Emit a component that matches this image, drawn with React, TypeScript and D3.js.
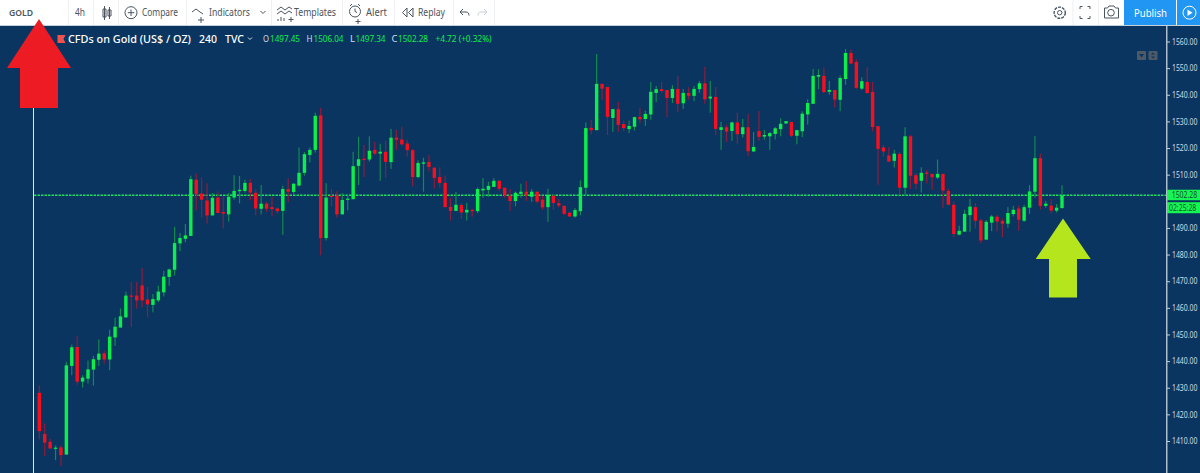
import React, { useEffect, useRef } from 'react';
import * as d3 from 'd3';

const opens = [
  1428.1,1412.6,1409.7,1407.2,1407.6,1404.9,1438.2,1445.3,1432.3,1433.4,
  1436.8,1440.5,1442.9,1440.6,1448.9,1452.6,1456.4,1464.6,1464.6,1468.4,
  1463.1,1461.1,1462.8,1465.8,1471.6,1474.3,1484.2,1485.9,1487,1508.1,
  1502.9,1500.3,1494.7,1501.4,1496,1495.1,1501.4,1503.8,1503.9,1506.9,
  1503.2,1497.2,1499.1,1497.8,1497.3,1496.4,1504.6,1503.5,1505.9,1510.7,
  1517.4,1519.3,1532.3,1486.2,1502.1,1502.1,1495.1,1500.6,1500.8,1513.3,
  1516,1515.7,1519.3,1517.9,1518.6,1514.7,1523.9,1523.2,1521.7,1519.2,
  1509.1,1514.1,1514.8,1512.6,1509.1,1506.9,1497.9,1496.4,1498.6,1495.8,
  1496.8,1496.3,1504.1,1504.3,1505.4,1507.7,1505.1,1502.1,1500.1,1502.8,
  1503.6,1501.7,1503.6,1500.6,1497.8,1502.1,1499.3,1498.3,1495.7,1494.3,
  1496.3,1505.1,1527.6,1526.7,1544.1,1542.9,1531.3,1534.6,1529,1527.1,
  1528,1531.7,1530.9,1532.6,1540.7,1542.1,1541.8,1538.8,1542.2,1536.8,
  1540.7,1539.6,1542.1,1544.3,1538.6,1539.2,1526.8,1527.8,1526.4,1529.6,
  1525.2,1527.8,1518.7,1526.4,1524.3,1524.4,1525.3,1527.1,1529.2,1529.8,
  1524.6,1526.3,1532.6,1536.6,1546.8,1547.1,1541.1,1541.8,1538.1,1545.9,
  1555.7,1552.3,1542.3,1544.8,1541.1,1528.2,1520.2,1517.2,1515.2,1517.8,
  1505.1,1524.4,1509.8,1507.7,1510.8,1510.3,1508.9,1510.3,1503.9,1498.7,
  1487.5,1488.6,1494.8,1497.8,1492.8,1485.6,1492,1494.2,1492.6,1491.6,
  1495.2,1497.3,1492.7,1497.6,1503.6,1516.2,1498.3,1498.4,1496.5,1497.45,
];
const highs = [
  1430.9,1416.6,1410.8,1408.3,1408.3,1439.7,1446.2,1449.3,1434.7,1440.2,
  1442,1448.1,1443.8,1451.8,1456.3,1459.8,1466.1,1469.8,1469.8,1475,
  1467.9,1465.2,1468.3,1473.9,1474.7,1490.4,1488.1,1491.5,1509.6,1510.4,
  1508.9,1506.8,1503.1,1503.7,1501.6,1503.1,1509.8,1509.5,1508.1,1508.3,
  1504.6,1506.1,1499.7,1501.7,1497.7,1505.8,1508.6,1506.8,1520.2,1518.5,
  1520.2,1533.3,1535.1,1506.8,1504.6,1503.8,1503.1,1502.4,1518.6,1524.2,
  1521.1,1524.4,1522.3,1521.6,1522.8,1527.2,1526.8,1528,1523.1,1519.6,
  1515.4,1516.4,1517.3,1512.9,1512.7,1509.7,1501.3,1503.5,1499.4,1499.4,
  1497.2,1505.2,1508.7,1507.3,1508.7,1508,1505.1,1504.6,1503.7,1506.6,
  1507.6,1504.6,1503.6,1502.1,1504.7,1502.8,1500.8,1498.3,1496.1,1497.5,
  1507.8,1529.6,1530.5,1555.3,1544.1,1542.9,1534.7,1537.3,1530.3,1530.3,
  1531.8,1535.1,1534,1544.8,1543.3,1544.8,1541.8,1543.6,1547.1,1542.2,
  1542.8,1543.3,1545.2,1550.4,1545.2,1542.9,1529.8,1528.8,1529.9,1533.3,
  1530.9,1532.8,1526,1533.9,1526.8,1526,1527.9,1531.2,1530.1,1529.8,
  1526.8,1533.8,1538.4,1549.7,1549.6,1550.2,1545.2,1541.8,1547.2,1557.2,
  1556.9,1553.3,1546.6,1550.3,1544.8,1528.3,1521.2,1520.4,1519.3,1518.5,
  1527.8,1524.9,1510.6,1512.8,1511.8,1510.3,1515.7,1510.3,1504.7,1499.9,
  1490.8,1496.8,1501,1499.3,1493.4,1493,1494.9,1494.9,1493.5,1497.8,
  1498.3,1498.4,1498.7,1506.1,1524.5,1517.9,1500.2,1500.9,1499,1506.04,
];
const lows = [
  1410.6,1404.3,1407.2,1402.8,1400.6,1404.9,1434.7,1431.1,1430.1,1431.6,
  1430.8,1438.2,1439.1,1436.6,1445.7,1452.6,1456.4,1452.9,1459.7,1460.2,
  1456.4,1458.3,1462.1,1464.3,1468.3,1472.2,1481.2,1484.6,1487,1496.6,
  1493.9,1491.7,1494.7,1495.6,1489.8,1492.4,1500.6,1499.2,1503.3,1500.3,
  1494.7,1495.1,1496,1494.3,1495.4,1487.4,1499.8,1502.4,1505.6,1509.6,
  1514.6,1518.3,1479.7,1485.3,1498.1,1493.9,1495.1,1496.6,1500.8,1506.1,
  1509.1,1514.9,1517.3,1507.7,1508.7,1512.2,1519.3,1520.8,1516.8,1505.6,
  1508.7,1503.6,1511.2,1504.8,1505.1,1497.8,1492.8,1496.4,1493.4,1492.8,
  1494.2,1495.6,1501.3,1501.7,1505.4,1503.9,1501.4,1496.3,1498.1,1501.3,
  1500.2,1499.8,1499.2,1496.8,1492.3,1496.8,1497.7,1494.9,1494.1,1493.9,
  1494.8,1502.1,1525.1,1526.7,1538.1,1524.9,1526.1,1526.1,1526.3,1525.6,
  1526.6,1529.3,1528.3,1530.6,1537.3,1540.7,1531.7,1536.9,1533.6,1534.7,
  1538.2,1537.6,1540.7,1536.6,1533.3,1524.9,1519.3,1522.3,1522.7,1521.6,
  1523.9,1517.1,1518.7,1522.7,1523.1,1519.3,1523.2,1524.4,1529.2,1524.1,
  1521.4,1524.1,1528.8,1536.6,1542.1,1540.6,1540,1535.3,1533.8,1543.7,
  1551.7,1542.2,1541.8,1540.6,1526.3,1506.2,1516.7,1514.9,1512.7,1502.5,
  1502.4,1504.7,1504.6,1503.3,1506.8,1504.3,1508.4,1497.6,1498.7,1486.4,
  1487.2,1488.6,1488.6,1489.8,1484.2,1485.6,1488.8,1488.6,1486.6,1490.1,
  1494.3,1488.9,1492.2,1495.3,1501.4,1496.9,1497.6,1495.4,1495.8,1497.34,
];
const closes = [
  1413.7,1409.4,1407.2,1407.5,1404.7,1438.4,1445.2,1432.3,1433.8,1436.9,
  1440.7,1442.8,1440.6,1449.2,1452.9,1456.8,1464.6,1464.3,1462.8,1462.8,
  1461.3,1463.3,1466.1,1471.7,1474.4,1484.3,1486.2,1487.2,1508.3,1502.8,
  1500.6,1494.7,1501.3,1495.6,1495.4,1501.7,1503.9,1504.3,1506.9,1503.3,
  1497.3,1499.1,1497.2,1497.1,1496.3,1504.6,1503.6,1506.6,1510.7,1517.7,
  1519.3,1532.1,1486.2,1501.4,1501.9,1495.1,1500.5,1501,1513.2,1515.8,
  1515.6,1519,1517.9,1518.6,1514.8,1523.9,1523.1,1521.4,1519.2,1509.1,
  1514.4,1514.6,1512.9,1508.8,1506.9,1497.8,1496.4,1498.7,1495.8,1496.8,
  1496.3,1504.6,1504.7,1505.8,1507.7,1504.7,1502.3,1500.1,1503.2,1503.6,
  1502.1,1503.6,1499.9,1497.7,1502.4,1499.4,1498.4,1495.3,1494.3,1496.7,
  1505.3,1527.5,1526.7,1544.1,1542.3,1531.7,1534.6,1528.7,1527.5,1528.3,
  1531.6,1530.8,1532.8,1541.1,1542.1,1541.4,1538.8,1542.2,1536.6,1540.7,
  1539.6,1542.2,1544.3,1538.3,1539.3,1527.2,1527.8,1526.2,1529.6,1525.2,
  1527.8,1518.8,1520.4,1524.2,1524.9,1525.6,1527.4,1529.1,1530.1,1524.6,
  1526.7,1532.9,1536.9,1547.1,1547.4,1541,1541.8,1538.2,1546.3,1555.7,
  1551.7,1542.6,1545.1,1540.6,1527.9,1519.7,1518.7,1514.9,1517.9,1505.1,
  1524.4,1509.6,1506.6,1510.7,1510.3,1509,1510.3,1504,1498.7,1487.7,
  1488.9,1495.3,1498,1492.7,1485.3,1492.3,1494.3,1492.4,1491.6,1495.6,
  1496.8,1493.1,1497.8,1503.7,1516.2,1498.3,1499.1,1496.5,1497.6,1502.28,
];
// 1500.00 sits behind the last price labels, so it has no tick of its own
const priceTicks = [
  1410, 1420, 1430, 1440, 1450, 1460, 1470, 1480, 1490,
  1510, 1520, 1530, 1540, 1550, 1560,
];
const lastPrice = 1502.28;

const BG = '#0a3560';
const UP = '#0cee4c';
const DOWN = '#f70f1e';
const UP_WICK = '#12894f';
const DOWN_WICK = '#8e1c3b';
const FONT = '"Noto Sans", sans-serif';

const width = 1200;
const height = 473;
const axisX = 1166;
const squeeze = 0.81;

const x = d3.scaleLinear().domain([0, opens.length - 1]).range([39.3, 1062]);
const y = d3.scaleLinear().domain([1410, 1560]).range([441, 41.5]);

const toolbarLabels: Array<[string, number, number]> = [
  ['Compare', 142, 36],
  ['Indicators', 209, 41],
  ['Templates', 294, 42],
  ['Alert', 366, 21],
  ['Replay', 418, 27],
];
const toolbarSeparators = [68, 93, 118, 186, 271, 342, 394, 453, 494, 1072.5, 1098, 1176.5];
const legendRow: Array<[string, number, string, number]> = [
  ['O', 263, '#d5dde6', 6],
  ['1497.45', 270, UP, 30],
  ['H', 306.5, '#d5dde6', 6],
  ['1506.04', 313.5, UP, 30],
  ['L', 350, '#d5dde6', 5],
  ['1497.34', 355.5, UP, 30],
  ['C', 391.5, '#d5dde6', 6],
  ['1502.28', 398, UP, 30],
  ['+4.72 (+0.32%)', 435.5, UP, 56],
];

const Toolbar = () => (
  <g fontFamily={FONT} fontSize={10} fill="#4a5560">
    <rect width={width} height={25} fill="#fff" />
    <rect y={25} width={width} height={1} fill="#c4d0dc" />
    {toolbarSeparators.map((s) => (
      <rect key={s} x={s} width={1} height={25} fill="#eef0f3" />
    ))}
    <text x={9} y={16} fontSize={9.5} fontWeight={600} textLength={24} lengthAdjust="spacingAndGlyphs">GOLD</text>
    <text x={75} y={16} textLength={10} lengthAdjust="spacingAndGlyphs">4h</text>
    {toolbarLabels.map(([label, lx, w]) => (
      <text key={label} x={lx} y={16} textLength={w} lengthAdjust="spacingAndGlyphs">{label}</text>
    ))}
    <g fill="none" stroke="#4a5560" strokeWidth={1}>
      <path d="M104.5 6v14M103 9h3v8h-3zM109.5 7v12M108 10h3v6h-3z" />
      <circle cx={131} cy={12.7} r={6} />
      <path d="M131 9.5v6.5M127.8 12.7h6.5" />
      <path d="M192 12l4-3 4 3 3 2M201 17v6M198 20h6" />
      <path d="M260.5 11l2.5 2.5 2.5-2.5" />
      <path d="M277 10l4-3 4 3 4-3 3 2M277 14l4-3 4 3 4-3 3 2M278 21v-2M281 21v-4M284 21v-3M291 17v5M288.5 19.5h5" />
      <circle cx={355} cy={11.5} r={5.5} />
      <path d="M355 8.5v3l2 1M350 6l2-2M360 6l-2-2M358 19v5M355.5 21.5h5" />
      <path d="M407 8v9l-4.5-4.5zM413 8v9l-4.5-4.5z" />
      <path d="M460 12h6c2 0 3 1.5 3 3.5M460 12l3-3M460 12l3 3" />
      <path d="M487 12h-6c-2 0-3 1.5-3 3.5M487 12l-3-3M487 12l-3 3" stroke="#c8ced4" />
      <circle cx={1059.7} cy={12.7} r={2.2} />
      <circle cx={1059.7} cy={12.7} r={5.6} strokeDasharray="3 1" strokeWidth={1.4} />
      <path d="M1080 9v-2.5h2.5M1090 9v-2.5h-2.5M1080 16v2.5h2.5M1090 16v2.5h-2.5" />
      <path d="M1104.5 8h3l1.5-2h5l1.5 2h3v10h-14z" />
      <circle cx={1111} cy={12.7} r={3.3} />
    </g>
    <rect x={1124} width={52} height={25} fill="#2196f3" />
    <text x={1134} y={16.5} fill="#fff" fontSize={11} textLength={33} lengthAdjust="spacingAndGlyphs">Publish</text>
    <rect x={1177} width={23} height={25} fill="#2196f3" />
    <circle cx={1189.5} cy={12.7} r={6.5} fill="none" stroke="#fff" />
    <path d="M1187.5 9.5l5 3.2-5 3.2z" fill="#fff" />
  </g>
);

const Legend = () => (
  <g fontFamily={FONT}>
    <path d="M57.5 35h8l-2 4 2 4h-8z" fill="#ef5350" />
    <g fill="#fff" fontSize={11} fontWeight={500}>
      <text x={68} y={42.5} textLength={123} lengthAdjust="spacingAndGlyphs">CFDs on Gold (US$ / OZ)</text>
      <text x={199} y={42.5} textLength={18} lengthAdjust="spacingAndGlyphs">240</text>
      <text x={225} y={42.5} textLength={19} lengthAdjust="spacingAndGlyphs">TVC</text>
    </g>
    <path d="M248 37.5l2 2 2-2" fill="none" stroke="#cfd8e0" />
    <g fontSize={9}>
      {legendRow.map(([t, lx, c, w]) => (
        <text key={`${t}${lx}`} x={lx} y={42} fill={c} textLength={w} lengthAdjust="spacingAndGlyphs">{t}</text>
      ))}
    </g>
    <rect x={1137} y={51} width={9} height={9} rx={1} fill="#4c5a68" />
    <rect x={1148.5} y={51} width={9} height={9} rx={1} fill="#4c5a68" />
    <path d="M1139 54h5l-2.5 3.5z" fill={BG} />
    <path d="M1151 54.5l2-2 2 2zM1151 56.5l2 2 2-2z" fill={BG} />
  </g>
);

const App = () => {
  const plotRef = useRef<SVGGElement>(null);
  const axisRef = useRef<SVGGElement>(null);

  useEffect(() => {
    if (!plotRef.current || !axisRef.current) {
      return;
    }
    const g = d3.select(plotRef.current);
    g.selectAll('*').remove();
    const candles = opens.map((o, i) => ({
      i,
      o,
      h: highs[i],
      l: lows[i],
      c: closes[i],
      up: closes[i] >= o,
    }));

    g.selectAll('rect.wick')
      .data(candles)
      .join('rect')
      .attr('class', 'wick')
      .attr('x', (d) => x(d.i) - 0.6)
      .attr('y', (d) => y(d.h))
      .attr('width', 1.2)
      .attr('height', (d) => y(d.l) - y(d.h))
      .attr('fill', (d) => (d.up ? UP_WICK : DOWN_WICK));

    g.selectAll('rect.body')
      .data(candles)
      .join('rect')
      .attr('class', 'body')
      .attr('x', (d) => x(d.i) - 1.7)
      .attr('y', (d) => y(Math.max(d.o, d.c)))
      .attr('width', 3.4)
      .attr('height', (d) => Math.max(1.2, Math.abs(y(d.o) - y(d.c))))
      .attr('fill', (d) => (d.up ? UP : DOWN));

    const axis = d3
      .axisRight(y)
      .tickValues(priceTicks)
      .tickSize(3)
      .tickFormat((d) => d3.format('.2f')(d as number));
    d3.select(axisRef.current)
      .call(axis)
      .call((a) => a.select('.domain').remove())
      .call((a) => a.selectAll('line').attr('stroke', '#c3ced9'))
      .call((a) =>
        a
          .selectAll('text')
          .attr('x', 5 / squeeze)
          .attr('transform', `scale(${squeeze},1)`)
          .attr('fill', '#d3dbe3')
          .attr('font-size', 8.5)
          .attr('font-family', FONT),
      );
  }, []);

  const ly = y(lastPrice);

  return (
    <svg
      width={width}
      height={height}
      viewBox={`0 0 ${width} ${height}`}
      style={{ position: 'absolute', left: 0, top: 0, display: 'block' }}
    >
      <rect y={26} width={width} height={height - 26} fill={BG} />
      <rect x={33} y={100} width={1} height={height - 100} fill="#dfe6ec" />
      <line
        x1={34}
        x2={axisX}
        y1={ly}
        y2={ly}
        stroke="#22dc5e"
        strokeDasharray="2.5 1"
        strokeWidth={1.4}
      />
      <g ref={plotRef} />
      <rect x={axisX} y={26} width={1.5} height={height - 26} fill="#aebccb" />
      <g ref={axisRef} transform={`translate(${axisX + 1},0)`} />
      <g fontFamily={FONT} fontSize={8.5} fill="#0b4f33">
        <rect x={axisX + 1} y={ly - 5.5} width={34} height={10.5} fill="#17f552" />
        <text transform={`translate(1171.7,${ly + 3}) scale(${squeeze},1)`}>{d3.format('.2f')(lastPrice)}</text>
        <rect x={axisX + 1} y={ly + 7} width={34} height={11} fill="#17f552" />
        <text transform={`translate(1169,${ly + 15.5}) scale(${squeeze},1)`}>02:25:28</text>
      </g>
      <Legend />
      <Toolbar />
      <polygon points="39,19 71,68 58,68 58,108 20,108 20,68 7,68" fill="#ed1c24" />
      <polygon points="1063,218.5 1090.7,259 1077,259 1077,297.5 1049,297.5 1049,259 1035.7,259" fill="#b5e61d" />
    </svg>
  );
};

export default App;
